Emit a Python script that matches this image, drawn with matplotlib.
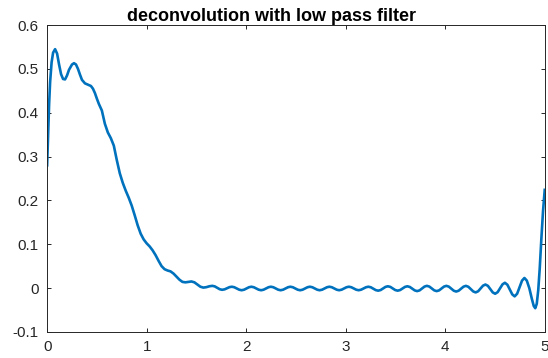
import matplotlib
matplotlib.use("Agg")
import matplotlib.pyplot as plt

# curve (x, y)
x_head = [0.0, 0.01, 0.02, 0.03, 0.045, 0.06, 0.08, 0.10, 0.12, 0.14, 0.16, 0.18, 0.20, 0.22,
          0.25, 0.27, 0.29, 0.31, 0.33, 0.35, 0.38, 0.41, 0.44, 0.46, 0.48, 0.50, 0.52, 0.55,
          0.58, 0.61, 0.64, 0.67, 0.70, 0.73, 0.76, 0.79, 0.82, 0.85, 0.88, 0.91, 0.94, 0.97,
          1.00, 1.03, 1.06, 1.09, 1.12, 1.15, 1.18, 1.21, 1.24, 1.27, 1.30, 1.33, 1.36, 1.39,
          1.42, 1.45, 1.48, 1.51, 1.54, 1.57, 1.60, 1.63]
y_head = [0.280, 0.350, 0.420, 0.470, 0.515, 0.537, 0.545, 0.535, 0.510, 0.488, 0.477, 0.476,
          0.485, 0.498, 0.510, 0.513, 0.510, 0.500, 0.487, 0.475, 0.467, 0.464, 0.461, 0.455,
          0.445, 0.432, 0.420, 0.405, 0.375, 0.355, 0.342, 0.325, 0.292, 0.262, 0.240, 0.222,
          0.206, 0.188, 0.166, 0.143, 0.124, 0.111, 0.102, 0.095, 0.086, 0.075, 0.062, 0.050,
          0.043, 0.040, 0.038, 0.033, 0.026, 0.019, 0.014, 0.013, 0.014, 0.015, 0.013, 0.008,
          0.003, 0.001, 0.002, 0.004]

x_tail = [1.660, 1.685, 1.709, 1.734, 1.758, 1.783, 1.807, 1.832,
          1.856, 1.881, 1.905, 1.930, 1.954, 1.979, 2.003, 2.028,
          2.052, 2.077, 2.101, 2.126, 2.150, 2.175, 2.199, 2.224,
          2.248, 2.273, 2.297, 2.322, 2.346, 2.371, 2.395, 2.420,
          2.444, 2.469, 2.493, 2.518, 2.542, 2.567, 2.591, 2.616,
          2.640, 2.665, 2.689, 2.714, 2.738, 2.763, 2.787, 2.812,
          2.836, 2.861, 2.885, 2.910, 2.934, 2.959, 2.983, 3.008,
          3.032, 3.057, 3.081, 3.106, 3.130, 3.155, 3.179, 3.204,
          3.228, 3.253, 3.277, 3.302, 3.326, 3.351, 3.375, 3.400,
          3.424, 3.449, 3.473, 3.498, 3.522, 3.547, 3.571, 3.596,
          3.620, 3.645, 3.669, 3.694, 3.718, 3.743, 3.767, 3.792,
          3.816, 3.841, 3.865, 3.890, 3.914, 3.939, 3.963, 3.988,
          4.012, 4.037, 4.061, 4.086, 4.110, 4.135, 4.159, 4.184,
          4.208, 4.233, 4.257, 4.282, 4.306, 4.331, 4.355, 4.380,
          4.404, 4.429, 4.453, 4.478, 4.502, 4.527, 4.551, 4.576,
          4.600, 4.625, 4.649, 4.674, 4.698, 4.723, 4.747, 4.772,
          4.796, 4.820, 4.845, 4.870, 4.890, 4.905, 4.920, 4.935,
          4.950, 4.967, 4.983, 5.000]
y_tail = [0.005, 0.0037, 0.0005, -0.0027, -0.004, -0.003, -0.0005, 0.002,
          0.003, 0.0018, -0.001, -0.0038, -0.005, -0.0038, -0.001, 0.0018,
          0.003, 0.0018, -0.001, -0.0038, -0.005, -0.0038, -0.001, 0.0018,
          0.003, 0.0018, -0.001, -0.0038, -0.005, -0.0038, -0.001, 0.0018,
          0.003, 0.0018, -0.001, -0.0038, -0.005, -0.0038, -0.001, 0.0018,
          0.003, 0.0018, -0.001, -0.0038, -0.005, -0.0038, -0.001, 0.0018,
          0.003, 0.0018, -0.001, -0.0038, -0.005, -0.0038, -0.001, 0.0018,
          0.003, 0.0018, -0.001, -0.0038, -0.005, -0.0038, -0.001, 0.0018,
          0.003, 0.0017, -0.0015, -0.0047, -0.006, -0.0046, -0.001, 0.0026,
          0.004, 0.0026, -0.001, -0.0046, -0.006, -0.0046, -0.001, 0.0026,
          0.004, 0.0024, -0.0015, -0.0054, -0.007, -0.0053, -0.001, 0.0033,
          0.005, 0.0033, -0.001, -0.0053, -0.007, -0.0053, -0.001, 0.0033,
          0.005, 0.0031, -0.0015, -0.0061, -0.008, -0.0061, -0.0015, 0.0031,
          0.005, 0.0028, -0.0025, -0.0078, -0.010, -0.0074, -0.001, 0.0054,
          0.008, 0.005, -0.0025, -0.010, -0.013, -0.0094, -0.0005, 0.0084,
          0.012, 0.0075, -0.0035, -0.0145, -0.019, -0.0129, 0.002, 0.0169,
          0.023, 0.017, 0.000, -0.024, -0.041, -0.046, -0.036, -0.005,
          0.045, 0.115, 0.175, 0.224]

x_ticks = [0, 1, 2, 3, 4, 5]
y_ticks = [-0.1, 0, 0.1, 0.2, 0.3, 0.4, 0.5, 0.6]
y_tick_labels = ["-0.1", "0", "0.1", "0.2", "0.3", "0.4", "0.5", "0.6"]

plt.rcParams['font.family'] = ['Liberation Sans', 'DejaVu Sans']

fig = plt.figure(figsize=(5.48, 3.58), dpi=100)
ax = fig.add_axes([0.086, 0.073, 0.908, 0.857])

ax.plot(x_head + x_tail, y_head + y_tail, color='#0072BD', linewidth=1.9)

ax.set_xlim(0, 5)
ax.set_ylim(-0.1, 0.6)
ax.set_xticks(x_ticks)
ax.set_xticklabels([str(t) for t in x_ticks])
ax.set_yticks(y_ticks)
ax.set_yticklabels(y_tick_labels)

ax.tick_params(direction='in', top=True, right=True, length=3, width=0.7,
               colors='#262626', labelsize=11, pad=6)
for side in ax.spines.values():
    side.set_color('#262626')
    side.set_linewidth(0.7)

ax.set_title('deconvolution with low pass filter', fontsize=13, fontweight='bold',
             pad=3, x=0.45)

fig.savefig('out.png', dpi=100)
